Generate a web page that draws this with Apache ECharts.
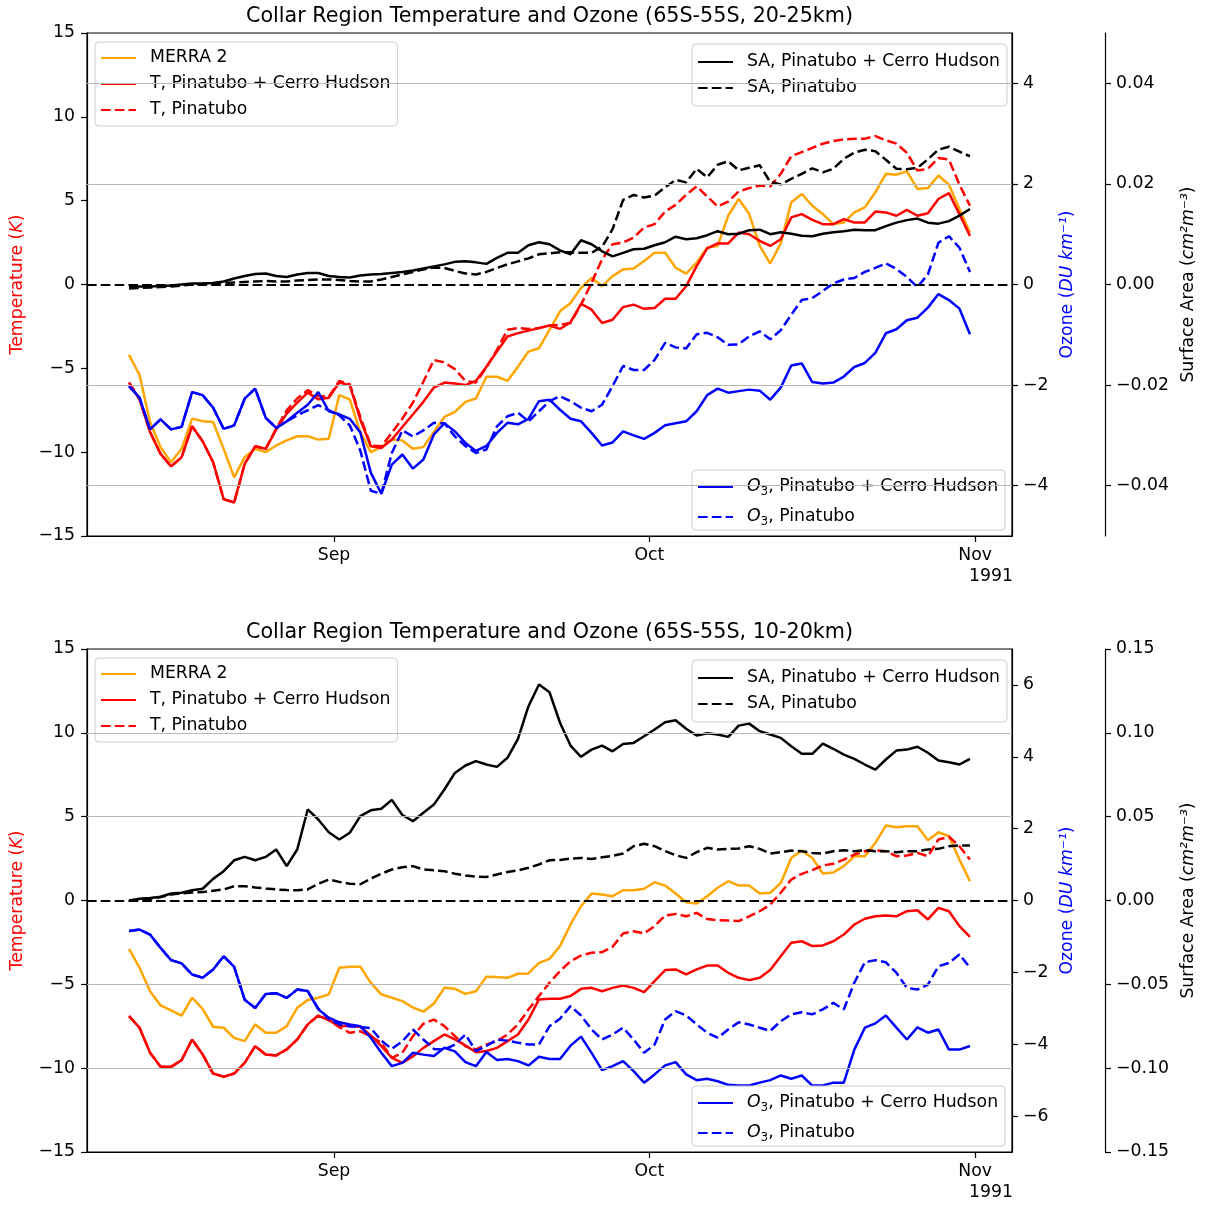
<!DOCTYPE html>
<html><head><meta charset="utf-8">
<script src="https://cdn.jsdelivr.net/npm/echarts@6/dist/echarts.min.js"></script>
<style>html,body{margin:0;padding:0;background:#fff}#c{width:1206px;height:1205px}</style>
</head><body><div id="c"></div><script>
// ---------- x categories (daily, 12 Aug 1991 12:00 .. 31 Oct 1991 12:00) ----------
const startDay = new Date(1991, 7, 12, 12).getTime();
const DAY = 86400000;
const nDays = 81;
const dates = Array.from({length: nDays}, (_, i) => startDay + i * DAY);
const monthTicks = [new Date(1991, 8, 1).getTime(), new Date(1991, 9, 1).getTime(), new Date(1991, 10, 1).getTime()];
const monthLabels = ['Sep', 'Oct', 'Nov'];
const yearLabel = '1991';

// ---------- tick values ----------
const tempTicks = [-15, -10, -5, 0, 5, 10, 15];
const o3TicksTop = [-4, -2, 0, 2, 4];
const o3TicksBot = [-6, -4, -2, 0, 2, 4, 6];
const saTicksTop = [-0.04, -0.02, 0, 0.02, 0.04];
const saTicksBot = [-0.15, -0.10, -0.05, 0, 0.05, 0.10, 0.15];

// ---------- TOP panel: 20-25 km ----------
const merra2Top = [-4.2,-5.4,-8.2,-9.7,-10.6,-9.8,-8.0,-8.15,-8.2,-9.8,
-11.5,-10.3,-9.8,-10.0,-9.6,-9.3,-9.05,-9.05,-9.25,-9.2,
-6.6,-6.85,-8.8,-10.0,-9.7,-9.25,-9.3,-9.8,-9.7,-8.8,
-7.9,-7.6,-7.0,-6.8,-5.5,-5.5,-5.75,-4.9,-4.0,-3.8,
-2.7,-1.6,-1.1,-0.2,0.4,-0.1,0.5,0.9,0.95,1.4,
1.9,1.9,1.0,0.65,1.3,2.2,2.3,4.1,5.1,4.2,
2.3,1.25,2.45,4.9,5.4,4.7,4.2,3.6,3.7,4.3,
4.6,5.5,6.6,6.55,6.75,5.7,5.75,6.5,5.95,4.5,
3.1];
const tBothTop = [-5.85,-6.85,-8.8,-10.1,-10.85,-10.3,-8.45,-9.35,-10.6,-12.8,
-13.0,-10.7,-9.65,-9.8,-8.65,-7.7,-7.05,-6.45,-6.85,-6.75,
-5.85,-6.0,-8.05,-9.65,-9.75,-9.25,-8.5,-7.75,-7.0,-6.15,
-5.85,-5.9,-6.0,-5.75,-4.9,-4.0,-3.1,-2.9,-2.75,-2.6,
-2.45,-2.65,-2.25,-1.15,-1.5,-2.3,-2.1,-1.35,-1.2,-1.45,
-1.4,-0.85,-0.85,-0.1,1.1,2.15,2.45,2.45,3.1,3.0,
2.6,2.3,2.7,4.0,4.2,3.85,3.6,3.6,3.9,3.7,
3.7,4.35,4.3,4.1,4.45,4.1,4.25,5.1,5.45,4.2,
2.9];
const tPinTop = [-5.85,-6.85,-8.8,-10.1,-10.85,-10.3,-8.45,-9.35,-10.6,-12.8,
-13.0,-10.7,-9.65,-9.8,-8.6,-7.5,-6.8,-6.3,-6.65,-6.7,
-5.75,-5.95,-7.9,-9.6,-9.65,-8.85,-8.0,-7.05,-5.8,-4.5,
-4.65,-5.05,-5.75,-5.85,-4.95,-3.9,-2.7,-2.6,-2.65,-2.6,
-2.45,-2.4,-2.3,-1.2,0.1,1.5,2.4,2.5,2.8,3.4,
3.6,4.35,4.75,5.35,5.85,5.25,4.65,4.95,5.55,5.75,
5.9,5.85,6.6,7.65,7.9,8.15,8.4,8.55,8.65,8.7,
8.7,8.85,8.6,8.4,7.85,6.8,6.9,7.55,7.45,5.95,
4.7];
const o3BothTop = [-2.02,-2.25,-2.88,-2.68,-2.88,-2.83,-2.14,-2.2,-2.45,-2.87,
-2.8,-2.27,-2.07,-2.65,-2.85,-2.72,-2.55,-2.39,-2.14,-2.52,
-2.58,-2.67,-2.94,-3.74,-4.16,-3.58,-3.38,-3.66,-3.48,-2.98,
-2.76,-2.92,-3.15,-3.31,-3.21,-2.95,-2.75,-2.78,-2.67,-2.32,
-2.29,-2.49,-2.67,-2.72,-2.95,-3.2,-3.14,-2.92,-3.0,-3.07,
-2.95,-2.8,-2.76,-2.72,-2.52,-2.2,-2.07,-2.15,-2.12,-2.09,
-2.11,-2.29,-2.05,-1.61,-1.57,-1.94,-1.97,-1.95,-1.83,-1.64,
-1.56,-1.36,-0.97,-0.89,-0.71,-0.66,-0.46,-0.19,-0.31,-0.48,
-0.99];
const o3PinTop = [-2.02,-2.25,-2.88,-2.68,-2.88,-2.83,-2.14,-2.2,-2.45,-2.87,
-2.8,-2.27,-2.07,-2.65,-2.85,-2.72,-2.6,-2.5,-2.4,-2.5,
-2.6,-2.8,-3.3,-4.1,-4.16,-3.35,-2.9,-3.02,-2.9,-2.75,
-2.76,-3.02,-3.21,-3.35,-3.28,-2.82,-2.62,-2.55,-2.72,-2.52,
-2.32,-2.22,-2.32,-2.45,-2.52,-2.39,-2.02,-1.62,-1.7,-1.7,
-1.5,-1.16,-1.25,-1.27,-0.99,-0.96,-1.05,-1.2,-1.19,-1.03,
-0.93,-1.09,-0.91,-0.6,-0.31,-0.27,-0.13,0.02,0.1,0.13,
0.25,0.33,0.42,0.31,0.15,-0.05,0.2,0.83,0.96,0.73,
0.25];
const saBothTop = [-0.0005,-0.0004,-0.0004,-0.0003,-0.0002,0.0000,0.0002,0.0002,0.0003,0.0006,
0.0012,0.0017,0.0021,0.0022,0.0017,0.0015,0.0020,0.0023,0.0023,0.0017,
0.0015,0.0014,0.0018,0.0020,0.0021,0.0023,0.0025,0.0028,0.0032,0.0036,
0.0040,0.0045,0.0046,0.0044,0.0041,0.0053,0.0063,0.0063,0.0078,0.0084,
0.0080,0.0068,0.0060,0.0088,0.0080,0.0066,0.0056,0.0063,0.0070,0.0071,
0.0078,0.0084,0.0095,0.0090,0.0092,0.0098,0.0106,0.0100,0.0101,0.0108,
0.0109,0.0100,0.0104,0.0101,0.0097,0.0096,0.0101,0.0104,0.0106,0.0109,
0.0108,0.0108,0.0116,0.0123,0.0128,0.0131,0.0123,0.0121,0.0126,0.0137,
0.0150];
const saPinTop = [-0.0008,-0.0007,-0.0006,-0.0005,-0.0004,-0.0002,0.0000,0.0001,0.0002,0.0003,
0.0004,0.0005,0.0006,0.0007,0.0006,0.0006,0.0008,0.0009,0.0010,0.0010,
0.0009,0.0007,0.0006,0.0006,0.0010,0.0015,0.0020,0.0025,0.0030,0.0034,
0.0033,0.0027,0.0022,0.0020,0.0025,0.0033,0.0040,0.0046,0.0052,0.0060,
0.0062,0.0064,0.0064,0.0063,0.0063,0.0075,0.0110,0.0168,0.0178,0.0173,
0.0177,0.0193,0.0208,0.0203,0.0230,0.0213,0.0238,0.0245,0.0227,0.0232,
0.0237,0.0204,0.0199,0.0210,0.0220,0.0231,0.0223,0.0230,0.0250,0.0262,
0.0268,0.0265,0.0248,0.0230,0.0229,0.0232,0.0249,0.0268,0.0274,0.0264,
0.0255];

// ---------- BOTTOM panel: 10-20 km ----------
const merra2Bot = [-2.88,-4.01,-5.41,-6.26,-6.56,-6.86,-5.8,-6.46,-7.53,-7.59,
-8.19,-8.39,-7.39,-7.89,-7.89,-7.49,-6.4,-5.94,-5.8,-5.6,
-4.01,-3.95,-3.95,-4.91,-5.6,-5.8,-6.0,-6.38,-6.63,-6.14,
-5.21,-5.27,-5.57,-5.41,-4.55,-4.57,-4.61,-4.37,-4.35,-3.72,
-3.48,-2.72,-1.43,-0.34,0.42,0.36,0.26,0.61,0.61,0.7,
1.09,0.89,0.42,-0.1,-0.18,0.25,0.76,1.15,0.89,0.89,
0.42,0.46,1.05,2.54,2.98,2.54,1.61,1.67,2.05,2.64,
2.64,3.44,4.47,4.37,4.43,4.43,3.6,4.07,3.83,2.44,
1.15];
const tBothBot = [-6.9,-7.59,-9.08,-9.92,-9.92,-9.52,-8.29,-9.18,-10.32,-10.51,
-10.32,-9.68,-8.69,-9.18,-9.24,-8.88,-8.29,-7.39,-6.86,-7.14,
-7.49,-7.49,-7.53,-8.05,-8.69,-9.38,-9.68,-9.3,-8.79,-8.39,
-7.99,-8.29,-8.65,-9.05,-8.98,-8.79,-8.39,-7.99,-7.1,-5.9,
-5.86,-5.86,-5.7,-5.27,-5.21,-5.41,-5.21,-5.07,-5.21,-5.47,
-4.81,-4.15,-4.11,-4.41,-4.11,-3.88,-3.88,-4.31,-4.61,-4.75,
-4.61,-4.15,-3.32,-2.52,-2.43,-2.72,-2.68,-2.43,-2.03,-1.43,
-1.09,-0.94,-0.9,-0.94,-0.64,-0.58,-1.13,-0.44,-0.64,-1.53,
-2.17];
const tPinBot = [-6.9,-7.59,-9.08,-9.92,-9.92,-9.52,-8.29,-9.18,-10.32,-10.51,
-10.32,-9.68,-8.69,-9.18,-9.24,-8.88,-8.29,-7.39,-6.86,-7.14,
-7.55,-7.89,-7.8,-8.1,-8.49,-9.38,-9.08,-8.1,-7.35,-7.1,
-7.49,-8.09,-8.69,-8.88,-8.59,-8.39,-7.99,-7.39,-6.5,-5.7,
-4.91,-4.21,-3.62,-3.28,-3.12,-3.08,-2.76,-1.97,-1.83,-1.97,
-1.53,-0.89,-0.8,-0.94,-0.74,-1.11,-1.17,-1.2,-1.23,-0.94,
-0.64,-0.24,0.46,1.25,1.59,1.81,2.09,2.19,2.44,2.74,
2.94,3.0,2.94,2.64,2.68,2.84,2.64,3.64,3.8,3.24,
2.44];
const o3BothBot = [-0.85,-0.81,-0.95,-1.32,-1.66,-1.75,-2.06,-2.15,-1.92,-1.55,
-1.85,-2.76,-2.99,-2.6,-2.58,-2.71,-2.48,-2.52,-3.03,-3.26,
-3.39,-3.45,-3.5,-3.82,-4.24,-4.61,-4.52,-4.24,-4.29,-4.33,
-4.1,-4.2,-4.5,-4.61,-4.22,-4.44,-4.41,-4.47,-4.59,-4.35,
-4.41,-4.41,-4.04,-3.79,-4.24,-4.72,-4.61,-4.47,-4.75,-5.07,
-4.84,-4.59,-4.5,-4.84,-5.0,-4.96,-5.03,-5.13,-5.15,-5.15,
-5.07,-5.0,-4.87,-4.96,-4.87,-5.15,-5.15,-5.07,-5.07,-4.15,
-3.54,-3.42,-3.2,-3.54,-3.87,-3.53,-3.68,-3.59,-4.15,-4.15,
-4.05];
const o3PinBot = [-0.85,-0.81,-0.95,-1.32,-1.66,-1.75,-2.06,-2.15,-1.92,-1.55,
-1.85,-2.76,-2.99,-2.6,-2.58,-2.71,-2.48,-2.52,-3.0,-3.3,
-3.45,-3.5,-3.52,-3.55,-3.9,-4.13,-3.92,-3.59,-3.87,-4.13,
-4.15,-4.01,-3.73,-4.19,-4.05,-3.87,-3.9,-3.96,-4.01,-4.01,
-3.5,-3.29,-2.94,-3.2,-3.59,-3.87,-3.73,-3.54,-3.87,-4.24,
-4.01,-3.31,-3.08,-3.2,-3.45,-3.68,-3.82,-3.59,-3.39,-3.45,
-3.54,-3.63,-3.36,-3.17,-3.11,-3.17,-3.03,-2.85,-3.03,-2.29,
-1.72,-1.66,-1.72,-2.01,-2.43,-2.48,-2.34,-1.83,-1.74,-1.5,
-1.87];
const saBothBot = [0.0000,0.0010,0.0015,0.0022,0.0042,0.0046,0.0061,0.0070,0.0129,0.0175,
0.0240,0.0260,0.0240,0.0260,0.0304,0.0205,0.0304,0.0543,0.0483,0.0407,
0.0364,0.0404,0.0503,0.0538,0.0547,0.0600,0.0510,0.0473,0.0523,0.0572,
0.0662,0.0761,0.0805,0.0831,0.0811,0.0797,0.0851,0.0964,0.1159,0.1288,
0.1242,0.1060,0.0924,0.0857,0.0900,0.0924,0.0890,0.0934,0.0940,0.0980,
0.1020,0.1063,0.1075,0.1024,0.0984,0.0998,0.0990,0.0976,0.1043,0.1055,
0.1010,0.0990,0.0970,0.0920,0.0875,0.0875,0.0936,0.0905,0.0870,0.0845,
0.0811,0.0781,0.0841,0.0894,0.0900,0.0917,0.0881,0.0835,0.0825,0.0811,
0.0845];
const saPinBot = [0.0000,0.0005,0.0010,0.0020,0.0036,0.0043,0.0047,0.0050,0.0058,0.0066,
0.0085,0.0085,0.0078,0.0072,0.0066,0.0062,0.0061,0.0066,0.0100,0.0125,
0.0111,0.0100,0.0097,0.0130,0.0160,0.0185,0.0198,0.0205,0.0185,0.0180,
0.0175,0.0160,0.0149,0.0142,0.0140,0.0155,0.0170,0.0180,0.0195,0.0215,
0.0240,0.0242,0.0250,0.0254,0.0248,0.0258,0.0266,0.0280,0.0324,0.0338,
0.0324,0.0295,0.0270,0.0254,0.0288,0.0314,0.0304,0.0308,0.0310,0.0324,
0.0308,0.0280,0.0288,0.0298,0.0294,0.0284,0.0280,0.0294,0.0300,0.0294,
0.0300,0.0294,0.0294,0.0288,0.0294,0.0294,0.0304,0.0308,0.0324,0.0328,
0.0328];

// ---------- names ----------
const titles = ['Collar Region Temperature and Ozone (65S-55S, 20-25km)',
                'Collar Region Temperature and Ozone (65S-55S, 10-20km)'];
const N_MERRA = 'MERRA 2', N_TB = 'T, Pinatubo + Cerro Hudson', N_TP = 'T, Pinatubo';
const N_SB = 'SA, Pinatubo + Cerro Hudson', N_SP = 'SA, Pinatubo';
const N_OB = 'O3, Pinatubo + Cerro Hudson', N_OP = 'O3, Pinatubo';

// ---------- styling ----------
const FONT = 'DejaVu Sans';
const FS = 17.3;
const C_OR = '#ffa500', C_RED = '#ff0000', C_BLUE = '#0000ff', C_BLK = '#000000';
const DASH = [9.6, 4.2];
const LW = 2.5;
const minus = v => String(v).replace('-', '\u2212');

const panels = [
  {top: 33, o3: [-5, 5], o3Ticks: o3TicksTop, sa: [-0.05, 0.05], saTicks: saTicksTop,
   d: [merra2Top, tBothTop, tPinTop, o3BothTop, o3PinTop, saBothTop, saPinTop],
   legTops: [42, 44, 470]},
  {top: 649, o3: [-7, 7], o3Ticks: o3TicksBot, sa: [-0.15, 0.15], saTicks: saTicksBot,
   d: [merra2Bot, tBothBot, tPinBot, o3BothBot, o3PinBot, saBothBot, saPinBot],
   legTops: [658, 660, 1086]}
];
const GL = 87, GW = 925, GH = 503;
const xMin = new Date(1991, 7, 8, 12).getTime();
const xMax = new Date(1991, 10, 4, 12).getTime();

const grid = [], xAxis = [], yAxis = [], series = [], legend = [], title = [], graphic = [];
const txt = {fontFamily: FONT, fontSize: FS, color: '#000'};

const tickCommon = {show: true, length: 6, inside: false, lineStyle: {color: '#000', width: 1.2}};
const lineCommon = {show: true, onZero: false, lineStyle: {color: '#000', width: 1.2}};
const monthOf = v => { let k = 0, best = Infinity; monthTicks.forEach((m, j) => { const d = Math.abs(m - v); if (d < best) { best = d; k = j; } }); return monthLabels[k]; };

panels.forEach((p, g) => {
  grid.push({left: GL, top: p.top, width: GW, height: GH, show: true, borderColor: '#000', borderWidth: 1.2, backgroundColor: 'transparent'});
  xAxis.push({type: 'value', gridIndex: g, min: xMin, max: xMax,
    axisLine: lineCommon, splitLine: {show: false},
    axisTick: Object.assign({}, tickCommon, {customValues: monthTicks}),
    axisLabel: Object.assign({}, txt, {customValues: monthTicks, margin: 11, formatter: v => monthOf(v)})});
  const yb = g * 3;
  // temperature axis
  yAxis.push({type: 'value', gridIndex: g, position: 'left', min: -15, max: 15, interval: 5,
    axisLine: lineCommon, axisTick: tickCommon, splitLine: {show: false},
    axisLabel: Object.assign({}, txt, {margin: 12, formatter: v => minus(v)}),
    name: '{n|Temperature (}{i|K}{n|)}', nameLocation: 'middle', nameRotate: 90, nameGap: 61,
    nameTextStyle: {rich: {n: {fontFamily: FONT, fontSize: FS, color: C_RED}, i: {fontFamily: FONT, fontSize: FS, color: C_RED, fontStyle: 'italic'}}}});
  // ozone axis
  yAxis.push({type: 'value', gridIndex: g, position: 'right', min: p.o3[0], max: p.o3[1],
    axisLine: lineCommon, splitLine: {show: false},
    axisTick: Object.assign({}, tickCommon, {customValues: p.o3Ticks}),
    axisLabel: Object.assign({}, txt, {margin: 11, customValues: p.o3Ticks, formatter: v => minus(v)}),
    name: '{n|Ozone (}{i|DU km\u207B\u00B9}{n|)}', nameLocation: 'middle', nameRotate: 90, nameGap: 47,
    nameTextStyle: {rich: {n: {fontFamily: FONT, fontSize: FS, color: C_BLUE}, i: {fontFamily: FONT, fontSize: FS, color: C_BLUE, fontStyle: 'italic'}}}});
  // surface area axis
  yAxis.push({type: 'value', gridIndex: g, position: 'right', offset: 93, min: p.sa[0], max: p.sa[1],
    axisLine: lineCommon, splitLine: {show: false},
    axisTick: Object.assign({}, tickCommon, {customValues: p.saTicks}),
    axisLabel: Object.assign({}, txt, {margin: 11, customValues: p.saTicks, formatter: v => minus(Number(v).toFixed(2))}),
    name: '{n|Surface Area (}{i|cm\u00B2m\u207B\u00B3}{n|)}', nameLocation: 'middle', nameRotate: 90, nameGap: 73,
    nameTextStyle: {rich: {n: {fontFamily: FONT, fontSize: FS, color: '#000'}, i: {fontFamily: FONT, fontSize: FS, color: '#000', fontStyle: 'italic'}}}});

  // grid lines (from surface-area ticks) and zero line
  series.push({type: 'line', name: '_grid' + g, xAxisIndex: g, yAxisIndex: yb + 2, data: [], z: 1, silent: true,
    markLine: {silent: true, symbol: ['none', 'none'], label: {show: false}, animation: false,
      lineStyle: {color: '#b8b8b8', width: 1.2, type: 'solid'},
      data: p.saTicks.filter(v => v !== 0 && Math.abs(v) < p.sa[1] - 1e-9).map(v => ({yAxis: v}))}});
  series.push({type: 'line', name: '_zero' + g, xAxisIndex: g, yAxisIndex: yb, data: [], z: 10, silent: true,
    markLine: {silent: true, symbol: ['none', 'none'], label: {show: false}, animation: false,
      lineStyle: {color: '#000', width: 2.2, type: DASH}, data: [{yAxis: 0}]}});

  const defs = [
    [N_MERRA, 0, C_OR, false, yb, 2],
    [N_TB, 1, C_RED, false, yb, 2],
    [N_TP, 2, C_RED, true, yb, 2],
    [N_OB, 3, C_BLUE, false, yb + 1, 3],
    [N_OP, 4, C_BLUE, true, yb + 1, 3],
    [N_SB, 5, C_BLK, false, yb + 2, 4],
    [N_SP, 6, C_BLK, true, yb + 2, 4]
  ];
  defs.forEach(([name, k, color, dashed, yi, z]) => {
    series.push({type: 'line', name, xAxisIndex: g, yAxisIndex: yi, z,
      data: dates.map((d, i) => [d, p.d[k][i]]),
      showSymbol: false, symbol: 'none', color,
      lineStyle: {color, width: LW, type: dashed ? DASH : 'solid'}});
  });

  const legBase = {orient: 'vertical', itemWidth: 35, itemHeight: 14, itemGap: 6, selectedMode: false,
    itemStyle: {opacity: 0},
    backgroundColor: 'rgba(255,255,255,0.8)', borderColor: '#cccccc', borderWidth: 1, borderRadius: 4,
    padding: [6, 7, 6, 5], textStyle: Object.assign({}, txt, {lineHeight: 20, padding: [0, 0, 0, 9]})};
  legend.push(Object.assign({}, legBase, {left: 95, top: p.legTops[0], data: [N_MERRA, N_TB, N_TP]}));
  legend.push(Object.assign({}, legBase, {left: 692, top: p.legTops[1], padding: [8, 7, 8, 5], data: [N_SB, N_SP]}));
  legend.push(Object.assign({}, legBase, {left: 692, top: p.legTops[2], itemGap: 8, padding: [6, 7, 2, 5], data: [N_OB, N_OP],
    formatter: n => '{i|O}{s|3}{t|' + n.slice(2) + '}',
    textStyle: Object.assign({}, txt, {lineHeight: 22, padding: [0, 0, 0, 9], rich: {
      i: {fontFamily: FONT, fontSize: FS, fontStyle: 'italic', lineHeight: 22},
      s: {fontFamily: FONT, fontSize: 12, lineHeight: 14, verticalAlign: 'bottom'},
      t: {fontFamily: FONT, fontSize: FS, lineHeight: 22}}})}));

  title.push({text: titles[g], left: GL + GW / 2, top: p.top - 27, textAlign: 'center', padding: 0,
    textStyle: {fontFamily: FONT, fontSize: 20.7, fontWeight: 'normal', color: '#000'}});
  graphic.push({type: 'text', right: 1206 - (GL + GW) - 1, top: p.top + GH + 32,
    style: {text: yearLabel, font: FS + 'px "' + FONT + '"', fill: '#000'}});
});

const chart = echarts.init(document.getElementById('c'), null, {renderer: 'canvas'});
chart.setOption({animation: false, backgroundColor: '#fff', title, grid, xAxis, yAxis, series, legend, graphic});
</script></body></html>
